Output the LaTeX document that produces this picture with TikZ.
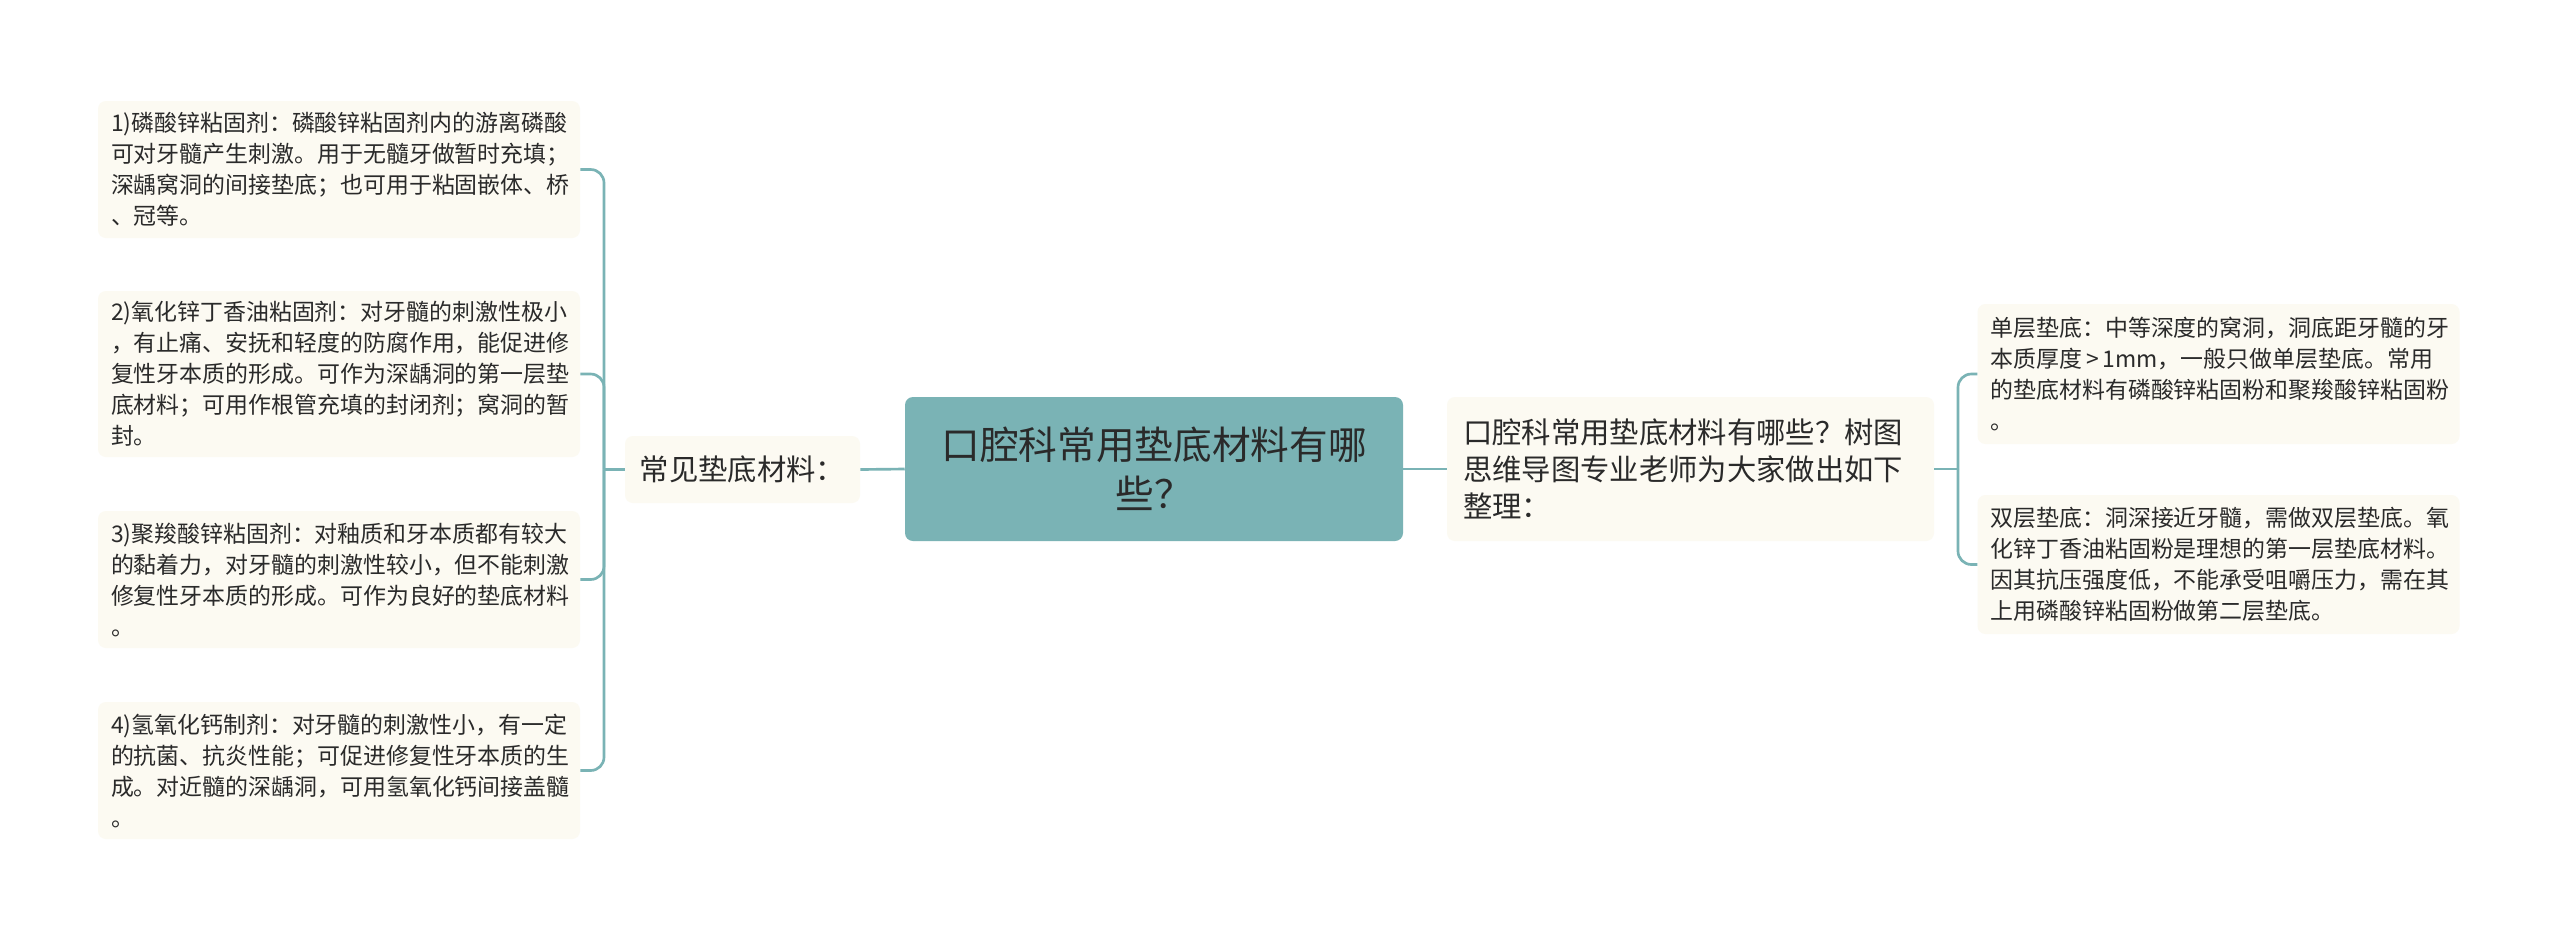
\documentclass[tikz,border=0pt]{standalone}
\usepackage{fontspec}
\setmainfont{Noto Sans CJK SC}
\definecolor{tealbox}{HTML}{7AB3B5}
\definecolor{tealline}{HTML}{7AB3B5}
\definecolor{leaf}{HTML}{FCFAF2}
\definecolor{ink}{HTML}{2A2A2A}
\begin{document}
\begin{tikzpicture}[x=0.75pt,y=-0.75pt,
  leafbox/.style={fill=leaf, rounded corners=6pt, draw=none, text=ink, align=left,
    inner xsep=9.75pt, inner ysep=0pt, text width=342pt, minimum width=361.5pt,
    font=\fontsize{17.2}{23.25}\selectfont},
  centralbox/.style={fill=tealbox, rounded corners=6pt, draw=none, text=ink, align=center,
    inner sep=0pt, minimum width=373.5pt, minimum height=108pt,
    font=\fontsize{29}{37}\selectfont},
  midbox/.style={fill=leaf, rounded corners=6pt, draw=none, text=ink, align=left,
    inner xsep=12pt, inner ysep=0pt, text width=341.25pt, minimum width=365.25pt, minimum height=108pt,
    font=\fontsize{22}{28}\selectfont},
  subbox/.style={fill=leaf, rounded corners=6pt, draw=none, text=ink, align=center,
    inner sep=0pt, minimum width=176.25pt, minimum height=50.25pt,
    font=\fontsize{22}{28}\selectfont},
  conn/.style={draw=tealline, line width=2pt},
  elbow/.style={conn, rounded corners=10pt}]
\useasboundingbox (0,0) rectangle (2560,940);
\fill[white] (0,0) rectangle (2560,940);

% central
\node[centralbox] (cen) at (1154,469) {口腔科常用垫底材料有哪\\些？};
\node[subbox] (mid) at (742.5,469.5) {常见垫底材料：};
\node[midbox] (rm) at (1690.5,469) {口腔科常用垫底材料有哪些？树图\\思维导图专业老师为大家做出如下\\整理：};

% left leaves
\node[leafbox, minimum height=102.75pt] (L1) at (339,169.5) {1)磷酸锌粘固剂：磷酸锌粘固剂内的游离磷酸\\可对牙髓产生刺激。用于无髓牙做暂时充填；\\深龋窝洞的间接垫底；也可用于粘固嵌体、桥\\、冠等。};
\node[leafbox, minimum height=124.5pt] (L2) at (339,374) {2)氧化锌丁香油粘固剂：对牙髓的刺激性极小\\，有止痛、安抚和轻度的防腐作用，能促进修\\复性牙本质的形成。可作为深龋洞的第一层垫\\底材料；可用作根管充填的封闭剂；窝洞的暂\\封。};
\node[leafbox, minimum height=102.75pt] (L3) at (339,579.5) {3)聚羧酸锌粘固剂：对釉质和牙本质都有较大\\的黏着力，对牙髓的刺激性较小，但不能刺激\\修复性牙本质的形成。可作为良好的垫底材料\\。};
\node[leafbox, minimum height=102.75pt] (L4) at (339,770.5) {4)氢氧化钙制剂：对牙髓的刺激性小，有一定\\的抗菌、抗炎性能；可促进修复性牙本质的生\\成。对近髓的深龋洞，可用氢氧化钙间接盖髓\\。};

% right leaves
\node[leafbox, minimum height=105pt, minimum width=360.75pt] (R1) at (2218.5,374) {单层垫底：中等深度的窝洞，洞底距牙髓的牙\\本质厚度\,>\,1mm，一般只做单层垫底。常用\\的垫底材料有磷酸锌粘固粉和聚羧酸锌粘固粉\\。};
\node[leafbox, minimum height=104.25pt, minimum width=360.75pt] (R2) at (2218.5,564.5) {双层垫底：洞深接近牙髓，需做双层垫底。氧\\化锌丁香油粘固粉是理想的第一层垫底材料。\\因其抗压强度低，不能承受咀嚼压力，需在其\\上用磷酸锌粘固粉做第二层垫底。};

% junctions
\coordinate (lj) at (604,469.5);
\coordinate (rj) at (1958,469);

% connectors
\draw[conn] (cen.west) -- (mid.east);
\draw[conn] (cen.east) -- (rm.west);
\draw[conn] (mid.west) -- (lj);
\draw[conn] (rm.east) -- (rj);
\foreach \c in {L1,L2,L3,L4} \draw[elbow] (lj) |- (\c.east);
\foreach \c in {R1,R2} \draw[elbow] (rj) |- (\c.west);
\end{tikzpicture}
\end{document}
